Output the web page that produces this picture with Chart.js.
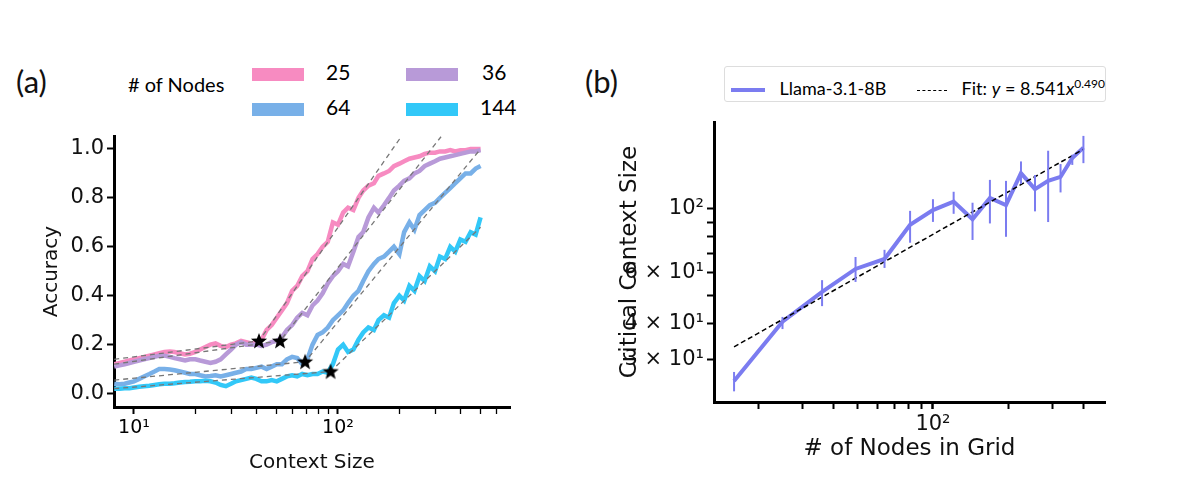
<!DOCTYPE html>
<html>
<head>
<meta charset="utf-8">
<script src="https://cdn.jsdelivr.net/npm/chart.js@4.4.0/dist/chart.umd.min.js"></script>
<style>
  body { margin:0; width:1200px; height:501px; background:#fff; position:relative; overflow:hidden; font-family:"DejaVu Sans", sans-serif; }
  .box { position:absolute; }
  .tag { position:absolute; font-family:Lato, sans-serif; font-size:31px; color:#111; }
  .sw { display:inline-block; width:52px; height:13px; vertical-align:middle; }
</style>
</head>
<body>
<div class="tag" style="left:16px;top:62px;">(a)</div>
<div class="tag" style="left:585px;top:62px;">(b)</div>

<!-- legend (a) -->
<div class="box" style="left:128px;top:72px;font-family:Lato,sans-serif;font-size:20px;">#&nbsp;of Nodes</div>
<div class="box" style="left:252px;top:54px;font-family:Lato,sans-serif;font-size:21px;line-height:35px;">
  <div><span class="sw" style="background:#f78bc1"></span><span style="display:inline-block;width:80px;padding-left:22px;">25</span><span class="sw" style="background:#b89ad8"></span><span style="padding-left:24px;">36</span></div>
  <div><span class="sw" style="background:#78b0e8"></span><span style="display:inline-block;width:80px;padding-left:22px;">64</span><span class="sw" style="background:#32c8f8"></span><span style="padding-left:22px;">144</span></div>
</div>

<!-- legend (b) -->
<div class="box" style="left:724px;top:66px;width:380px;height:34px;border:1px solid #ddd;border-radius:3px;font-family:Lato,sans-serif;font-size:18px;line-height:34px;white-space:nowrap;">
  <span style="display:inline-block;width:34px;height:4px;background:#7b7cf0;vertical-align:middle;margin-left:6px;"></span>
  <span style="margin-left:10px;">Llama-3.1-8B</span>
  <span style="display:inline-block;width:30px;border-top:1.5px dashed #000;vertical-align:middle;margin-left:26px;"></span>
  <span style="margin-left:10px;">Fit: <i>y</i> = 8.541<i>x</i><sup style="font-size:12px;">0.490</sup></span>
</div>

<div class="box" style="left:0;top:0;width:560px;height:501px;"><canvas id="chartA"></canvas></div>
<div class="box" style="left:580px;top:0;width:620px;height:501px;"><canvas id="chartB"></canvas></div>

<script>
// ---------- panel (a) data ----------
const ctxSize = [8,8.5,9,9.5,10,10.6,11.2,11.9,12.6,13.3,14.1,15,15.8,16.8,17.8,18.8,20,21.1,22.4,23.7,25.1,26.6,28.2,29.9,31.6,33.5,35.5,37.6,39.8,42.2,44.7,47.3,50.1,53.1,56.2,59.6,63.1,66.8,70.8,75,79.4,84.1,89.1,94.4,100,106,112,119,126,133,141,150,158,168,178,188,200,211,224,237,251,266,282,299,316,335,355,376,398,422,447,473,500];
const acc25 = [0.12,0.125,0.13,0.135,0.14,0.145,0.15,0.155,0.16,0.165,0.17,0.172,0.17,0.165,0.16,0.163,0.17,0.18,0.19,0.2,0.205,0.195,0.19,0.2,0.205,0.215,0.21,0.205,0.21,0.22,0.26,0.28,0.31,0.34,0.37,0.42,0.44,0.48,0.5,0.55,0.57,0.6,0.62,0.7,0.69,0.74,0.76,0.75,0.8,0.83,0.85,0.86,0.89,0.9,0.91,0.93,0.94,0.95,0.96,0.965,0.97,0.98,0.985,0.985,0.99,0.99,0.995,0.99,0.995,0.995,1.0,1.0,1.0];
const acc36 = [0.11,0.115,0.12,0.125,0.13,0.135,0.14,0.145,0.15,0.155,0.155,0.15,0.145,0.14,0.135,0.14,0.14,0.135,0.13,0.125,0.13,0.14,0.16,0.18,0.2,0.21,0.2,0.2,0.2,0.195,0.2,0.21,0.215,0.23,0.26,0.28,0.31,0.33,0.32,0.36,0.38,0.41,0.45,0.48,0.5,0.53,0.52,0.58,0.64,0.66,0.72,0.76,0.74,0.77,0.8,0.83,0.85,0.87,0.88,0.9,0.91,0.93,0.94,0.95,0.96,0.965,0.97,0.975,0.98,0.985,0.99,0.99,0.995];
const acc64 = [0.04,0.038,0.04,0.045,0.05,0.06,0.07,0.08,0.09,0.1,0.1,0.098,0.095,0.09,0.085,0.08,0.08,0.075,0.07,0.072,0.075,0.07,0.075,0.08,0.085,0.09,0.1,0.1,0.105,0.11,0.1,0.11,0.12,0.12,0.14,0.15,0.145,0.12,0.14,0.2,0.24,0.25,0.27,0.3,0.32,0.34,0.37,0.4,0.42,0.46,0.5,0.53,0.55,0.56,0.58,0.6,0.57,0.66,0.7,0.67,0.73,0.75,0.77,0.78,0.8,0.82,0.84,0.86,0.88,0.9,0.9,0.92,0.93];
const acc144 = [0.02,0.02,0.022,0.022,0.025,0.028,0.03,0.032,0.035,0.038,0.04,0.04,0.042,0.045,0.047,0.048,0.05,0.05,0.052,0.05,0.045,0.035,0.03,0.04,0.05,0.055,0.06,0.065,0.06,0.05,0.05,0.055,0.05,0.06,0.07,0.075,0.07,0.08,0.075,0.08,0.08,0.09,0.085,0.12,0.18,0.2,0.17,0.18,0.22,0.25,0.27,0.26,0.3,0.32,0.31,0.37,0.4,0.38,0.44,0.42,0.48,0.46,0.52,0.5,0.56,0.55,0.6,0.58,0.63,0.62,0.66,0.65,0.72];
const nodeLabels = ['25','36','64','144'];
const nodeColors = ['#f78bc1','#b89ad8','#78b0e8','#32c8f8'];
// piecewise fits: start, breakpoint (star), end
const fitX = [[8,41,204],[8,52,320],[8,69,500],[8,92,500]];
const fitY = [[0.14,0.215,1.05],[0.12,0.215,1.05],[0.055,0.13,1.0],[0.02,0.09,0.68]];
const starX = [41,52,69,92];
const starY = [0.215,0.215,0.13,0.09];

// ---------- panel (b) data ----------
const gridNodes = [16,25,36,49,64,81,100,121,144,169,196,225,256,289,324,361,400];
const critCtx  = [25.3,40.6,51.5,61.9,67,88,99,106,92,109,103,133,117,125,129,150,163];
const critLow  = [23.3,38.3,46.0,55.8,62.4,76.3,90.1,96.1,78,89,80,122,98,90,114,142,144];
const critHigh = [27.2,42.2,56.6,68.1,72.1,98.4,108,114.6,105,126,125,146,131,159,143,154,179];
const fitA = 8.541, fitB = 0.490;
const fitNodes = [16,400];

const sup = {'1':'¹','2':'²'};
function starImg() {
  const c = document.createElement('canvas'); c.width = 18; c.height = 18;
  const g = c.getContext('2d'); g.fillStyle = '#000'; g.beginPath();
  for (let i = 0; i < 10; i++) {
    const r = i % 2 ? 3.6 : 8.5, a = -Math.PI/2 + i*Math.PI/5;
    g.lineTo(9 + r*Math.cos(a), 9.5 + r*Math.sin(a));
  }
  g.closePath(); g.fill(); return c;
}

const tickFont = {family:'DejaVu Sans', size:21};
const axBorder = {color:'#000', width:3};

const dsA = [];
[acc25, acc36, acc64, acc144].forEach((arr, i) => {
  dsA.push({data: ctxSize.map((x,j) => ({x, y: arr[j]})), borderColor: nodeColors[i], borderWidth: 4.5, pointRadius: 0, tension: 0, order: 5 - i});
});
fitX.forEach((xs, i) => {
  dsA.push({data: xs.map((x,j) => ({x, y: fitY[i][j]})), borderColor: '#777', borderWidth: 1.3, borderDash: [5,4], pointRadius: 0, order: 0});
});
dsA.push({type:'scatter', data: starX.map((x,i) => ({x, y: starY[i]})), pointStyle: starImg(), pointRadius: 9, order: -1});

new Chart(document.getElementById('chartA'), {
  type: 'line',
  data: {datasets: dsA},
  options: {
    responsive: true, maintainAspectRatio: false, animation: false,
    layout: {padding: {top: 136, right: 50, left: 36, bottom: 22}},
    plugins: {legend: {display: false}, tooltip: {enabled: false}},
    scales: {
      x: {
        type: 'logarithmic', min: 7.98, max: 697,
        border: axBorder,
        grid: {drawOnChartArea: false, tickLength: 7, tickColor: '#000', tickWidth: c => [10,100].includes(c.tick && c.tick.value) ? 2 : 1.3},
        afterBuildTicks: s => { s.ticks = [10,20,30,40,50,60,70,80,90,100,200,300,400,500,600].map(v => ({value: v})); },
        ticks: {color: '#000', font: {family:'DejaVu Sans', size:19}, autoSkip: false, maxRotation: 0,
          callback: v => v === 10 ? '10' + sup['1'] : v === 100 ? '10' + sup['2'] : ''},
        title: {display: true, text: 'Context Size', color: '#111', font: {family:'DejaVu Sans', size:20}, padding: {top: 4}},
        afterFit: s => { s.height = 72; }
      },
      y: {
        min: -0.055, max: 1.053,
        border: axBorder,
        grid: {drawOnChartArea: false, tickLength: 7, tickColor: '#000', tickWidth: 2},
        afterBuildTicks: s => { s.ticks = [0,0.2,0.4,0.6,0.8,1.0].map(v => ({value: v})); },
        ticks: {color: '#111', font: tickFont, callback: v => v.toFixed(1)},
        title: {display: true, text: 'Accuracy', color: '#111', font: {family:'DejaVu Sans', size:20}, padding: {bottom: 4}},
        afterFit: s => { s.width = 78; }
      }
    }
  }
});

// error bars for panel (b), drawn through the chart scales
const errorBars = {
  id: 'errorBars',
  afterDatasetsDraw(chart) {
    const {ctx, scales: {x, y}} = chart;
    ctx.save(); ctx.strokeStyle = '#7b7cf0'; ctx.lineWidth = 2;
    gridNodes.forEach((n, i) => {
      const px = x.getPixelForValue(n);
      ctx.beginPath(); ctx.moveTo(px, y.getPixelForValue(critLow[i])); ctx.lineTo(px, y.getPixelForValue(critHigh[i])); ctx.stroke();
    });
    ctx.restore();
  }
};

new Chart(document.getElementById('chartB'), {
  type: 'line',
  plugins: [errorBars],
  data: {datasets: [
    {data: gridNodes.map((x,i) => ({x, y: critCtx[i]})), borderColor: '#7b7cf0', borderWidth: 4, pointRadius: 0, order: 1},
    {data: fitNodes.map(x => ({x, y: fitA * Math.pow(x, fitB)})), borderColor: '#000', borderWidth: 1.5, borderDash: [5,3], pointRadius: 0, order: 0}
  ]},
  options: {
    responsive: true, maintainAspectRatio: false, animation: false,
    layout: {padding: {top: 122, right: 95, left: 32, bottom: 34}},
    plugins: {legend: {display: false}, tooltip: {enabled: false}},
    scales: {
      x: {
        type: 'logarithmic', min: 13.3, max: 488,
        border: axBorder,
        grid: {drawOnChartArea: false, tickLength: 7, tickColor: '#000', tickWidth: c => (c.tick && c.tick.value === 100) ? 2.5 : 2},
        afterBuildTicks: s => { s.ticks = [20,30,40,50,60,70,80,90,100,200,300,400].map(v => ({value: v})); },
        ticks: {color: '#111', font: tickFont, autoSkip: false, maxRotation: 0, callback: v => v === 100 ? '10' + sup['2'] : ''},
        title: {display: true, text: '# of Nodes in Grid', color: '#111', font: {family:'DejaVu Sans', size:23}, padding: {top: 0}},
        afterFit: s => { s.height = 65; }
      },
      y: {
        type: 'logarithmic', min: 21.4, max: 200,
        border: axBorder,
        grid: {drawOnChartArea: false, tickLength: 7, tickColor: '#000', tickWidth: 2},
        afterBuildTicks: s => { s.ticks = [30,40,50,60,70,80,90,100].map(v => ({value: v})); },
        ticks: {color: '#111', font: tickFont, autoSkip: false,
          callback: v => v === 100 ? '10' + sup['2'] : [30,40,60].includes(v) ? (v/10) + ' × 10' + sup['1'] : ''},
        title: {display: true, text: 'Critical Context Size', color: '#111', font: {family:'DejaVu Sans', size:23}, padding: {bottom: 2}},
        afterFit: s => { s.width = 102; }
      }
    }
  }
});
</script>
</body>
</html>
